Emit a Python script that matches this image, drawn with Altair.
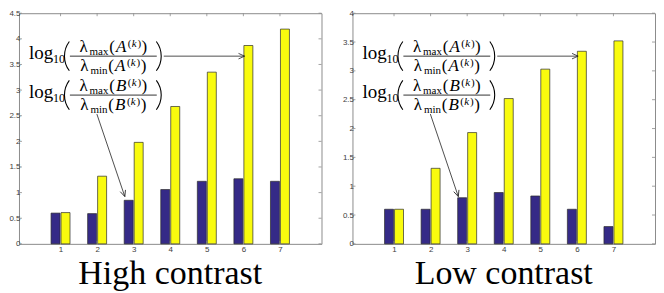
import math
import altair as alt
import pandas as pd

# ---------------- data ----------------
ks = [1, 2, 3, 4, 5, 6, 7]
high_B = [0.60, 0.59, 0.85, 1.06, 1.22, 1.27, 1.22]
high_A = [0.61, 1.32, 1.98, 2.68, 3.35, 3.87, 4.19]
low_B = [0.60, 0.60, 0.80, 0.89, 0.83, 0.60, 0.30]
low_A = [0.60, 1.31, 1.93, 2.52, 3.03, 3.34, 3.52]
high_ticks = [0, 0.5, 1, 1.5, 2, 2.5, 3, 3.5, 4, 4.5]
low_ticks = [0, 0.5, 1, 1.5, 2, 2.5, 3, 3.5, 4]
titles = ["High contrast", "Low contrast"]
mat_letters = ["A", "B"]
fn_names = ["max", "min"]

# ---------------- style ----------------
BLUE = "#352a87"
YELLOW = "#f9fb0e"
EDGE = "#2b2b2b"
FRAME = "#8c8c8c"
LABEL = "#404040"
SERIF = "Liberation Serif"
SANS = "Liberation Sans"
W, H = 303, 231
SY = H / 239.0          # vertical scale of annotation layout
MAIN, SCRIPT = 17, 11
BAR_A, BAR_B = 43, 82   # fraction-bar heights of the two formulas (px from top)

# approximate advance widths (em) for Liberation Serif
WID_UP = {"λ": 0.55, "m": 0.778, "a": 0.444, "x": 0.5, "i": 0.278, "n": 0.5,
          "(": 0.333, ")": 0.333}
WID_IT = {"A": 0.611, "B": 0.611, "k": 0.444}


def text_w(s, size, italic):
    tab = WID_IT if italic else WID_UP
    return sum(tab.get(ch, 0.5) for ch in s) * size


def axis(orient, values, fmt="~g", pad=2.5):
    return alt.Axis(
        orient=orient, values=values, format=fmt, title=None,
        grid=False, domain=False, ticks=False, tickSize=0, labelFont=SANS,
        labelFontSize=8, labelColor=LABEL, labelPadding=pad, minExtent=0,
    )


DUMMY = pd.DataFrame({"d": [0]})


def piece(txt, x, y, size, italic=False, align="left"):
    kw = dict(text=txt, font=SERIF, fontSize=size, align=align,
              baseline="alphabetic", color="black")
    if italic:
        kw["fontStyle"] = "italic"
    return alt.Chart(DUMMY).mark_text(**kw).encode(x=alt.value(x), y=alt.value(y))


def lam_term(fn, letter, cx, base):
    parts = [("λ", MAIN, 0, False, 0.8), (fn, SCRIPT, 3, False, 0.8),
             ("(", MAIN, 0, False, 1), (letter, MAIN, 0, True, 1.5),
             ("(", SCRIPT, -4.5, False, 0.3), ("k", SCRIPT, -4.5, True, 0.8),
             (")", SCRIPT, -4.5, False, 0.5), (")", MAIN, 0, False, 0)]
    total = sum(text_w(t, s, it) + g for t, s, _, it, g in parts)
    x = cx - total / 2
    out = []
    for t, s, dy, it, g in parts:
        out.append(piece(t, x, base + dy, s, it))
        x += text_w(t, s, it) + g
    return out


def paren(cx, cy, left):
    R = 25
    half = math.asin(15 / R)
    mid = 1.5 * math.pi if left else 0.5 * math.pi
    return alt.Chart(DUMMY).mark_arc(
        color="black", outerRadius=R, innerRadius=R - 1.1,
        theta=mid - half, theta2=mid + half,
    ).encode(x=alt.value(cx), y=alt.value(cy))


def formula(letter, bar_y):
    layers = [
        piece("log", 10, bar_y + 3, 19),
        piece("10", 34, bar_y + 7, 12),
        paren(70, bar_y, True),
        alt.Chart(DUMMY).mark_rule(color="black", strokeWidth=0.8).encode(
            x=alt.value(51), x2=alt.value(138), y=alt.value(bar_y)),
        paren(118, bar_y, False),
    ]
    layers += lam_term(fn_names[0], letter, 94.5, bar_y - 4.5)
    layers += lam_term(fn_names[1], letter, 94.5, bar_y + 14.5)
    return layers


def arrow(x1, y1, x2, y2):
    ang = math.degrees(math.atan2(y2 - y1, x2 - x1))
    c = alt.Chart(DUMMY)
    return [
        c.mark_rule(color="#222", strokeWidth=0.8).encode(
            x=alt.value(x1), y=alt.value(y1), x2=alt.value(x2), y2=alt.value(y2)),
        c.mark_point(shape="M -1 -0.45 L 0 0 L -1 0.45", filled=False,
                     size=150, angle=ang % 360, color="#222", strokeWidth=0.8,
                     opacity=1).encode(x=alt.value(x2), y=alt.value(y2)),
    ]


def panel(blue, yellow, ticks, title):
    df = pd.DataFrame({"k": ks, "B": blue, "A": yellow})
    xs = alt.Scale(domain=[0, 8], nice=False, zero=False)
    ys = alt.Scale(domain=[ticks[0], ticks[-1]], nice=False)
    ax_x = axis("bottom", ks, fmt="d", pad=2)
    ax_y = axis("left", ticks, pad=-1)
    X = lambda f: alt.X(f, scale=xs, axis=ax_x, title=None)
    Y = lambda f: alt.Y(f, scale=ys, axis=ax_y, title=None)
    base = alt.Chart(df)
    bars_b = base.mark_bar(color=BLUE, stroke=EDGE, strokeWidth=0.7,
                           width=9, xOffset=-5, orient="vertical").encode(
        x=X("k:Q"), y=Y("B:Q"))
    bars_a = base.mark_bar(color=YELLOW, stroke=EDGE, strokeWidth=0.7,
                           width=9, xOffset=5, orient="vertical").encode(
        x=X("k:Q"), y=Y("A:Q"))
    # inward tick marks on all four sides of the box
    yt = alt.Chart(pd.DataFrame({"v": ticks}))
    xt = alt.Chart(pd.DataFrame({"k": ks}))
    tk = dict(color=FRAME, strokeWidth=0.8)
    tick_layers = [
        yt.mark_rule(**tk).encode(y=Y("v:Q"), x=alt.value(0), x2=alt.value(3)),
        yt.mark_rule(**tk).encode(y=Y("v:Q"), x=alt.value(W - 3), x2=alt.value(W)),
        xt.mark_rule(**tk).encode(x=X("k:Q"), y=alt.value(H - 3), y2=alt.value(H)),
        xt.mark_rule(**tk).encode(x=X("k:Q"), y=alt.value(0), y2=alt.value(3)),
    ]
    layers = [bars_b, bars_a] + tick_layers
    layers += formula(mat_letters[0], BAR_A)
    layers += formula(mat_letters[1], BAR_B)
    layers += arrow(145, BAR_A, 226, BAR_A)
    layers += arrow(78, BAR_B + 19, 106, 190 * SY)
    return alt.layer(*layers).properties(
        width=W, height=H,
        title=alt.TitleParams(title, orient="bottom", anchor="middle", font=SERIF,
                              fontSize=34, fontWeight="normal", color="black",
                              offset=3),
    )


chart = alt.hconcat(
    panel(high_B, high_A, high_ticks, titles[0]),
    panel(low_B, low_A, low_ticks, titles[1]),
    spacing=19,
).properties(padding=0, background="white").configure_view(
    stroke=FRAME, strokeWidth=1
)

chart.save("out.html", embed_options={"renderer": "svg", "actions": False})
